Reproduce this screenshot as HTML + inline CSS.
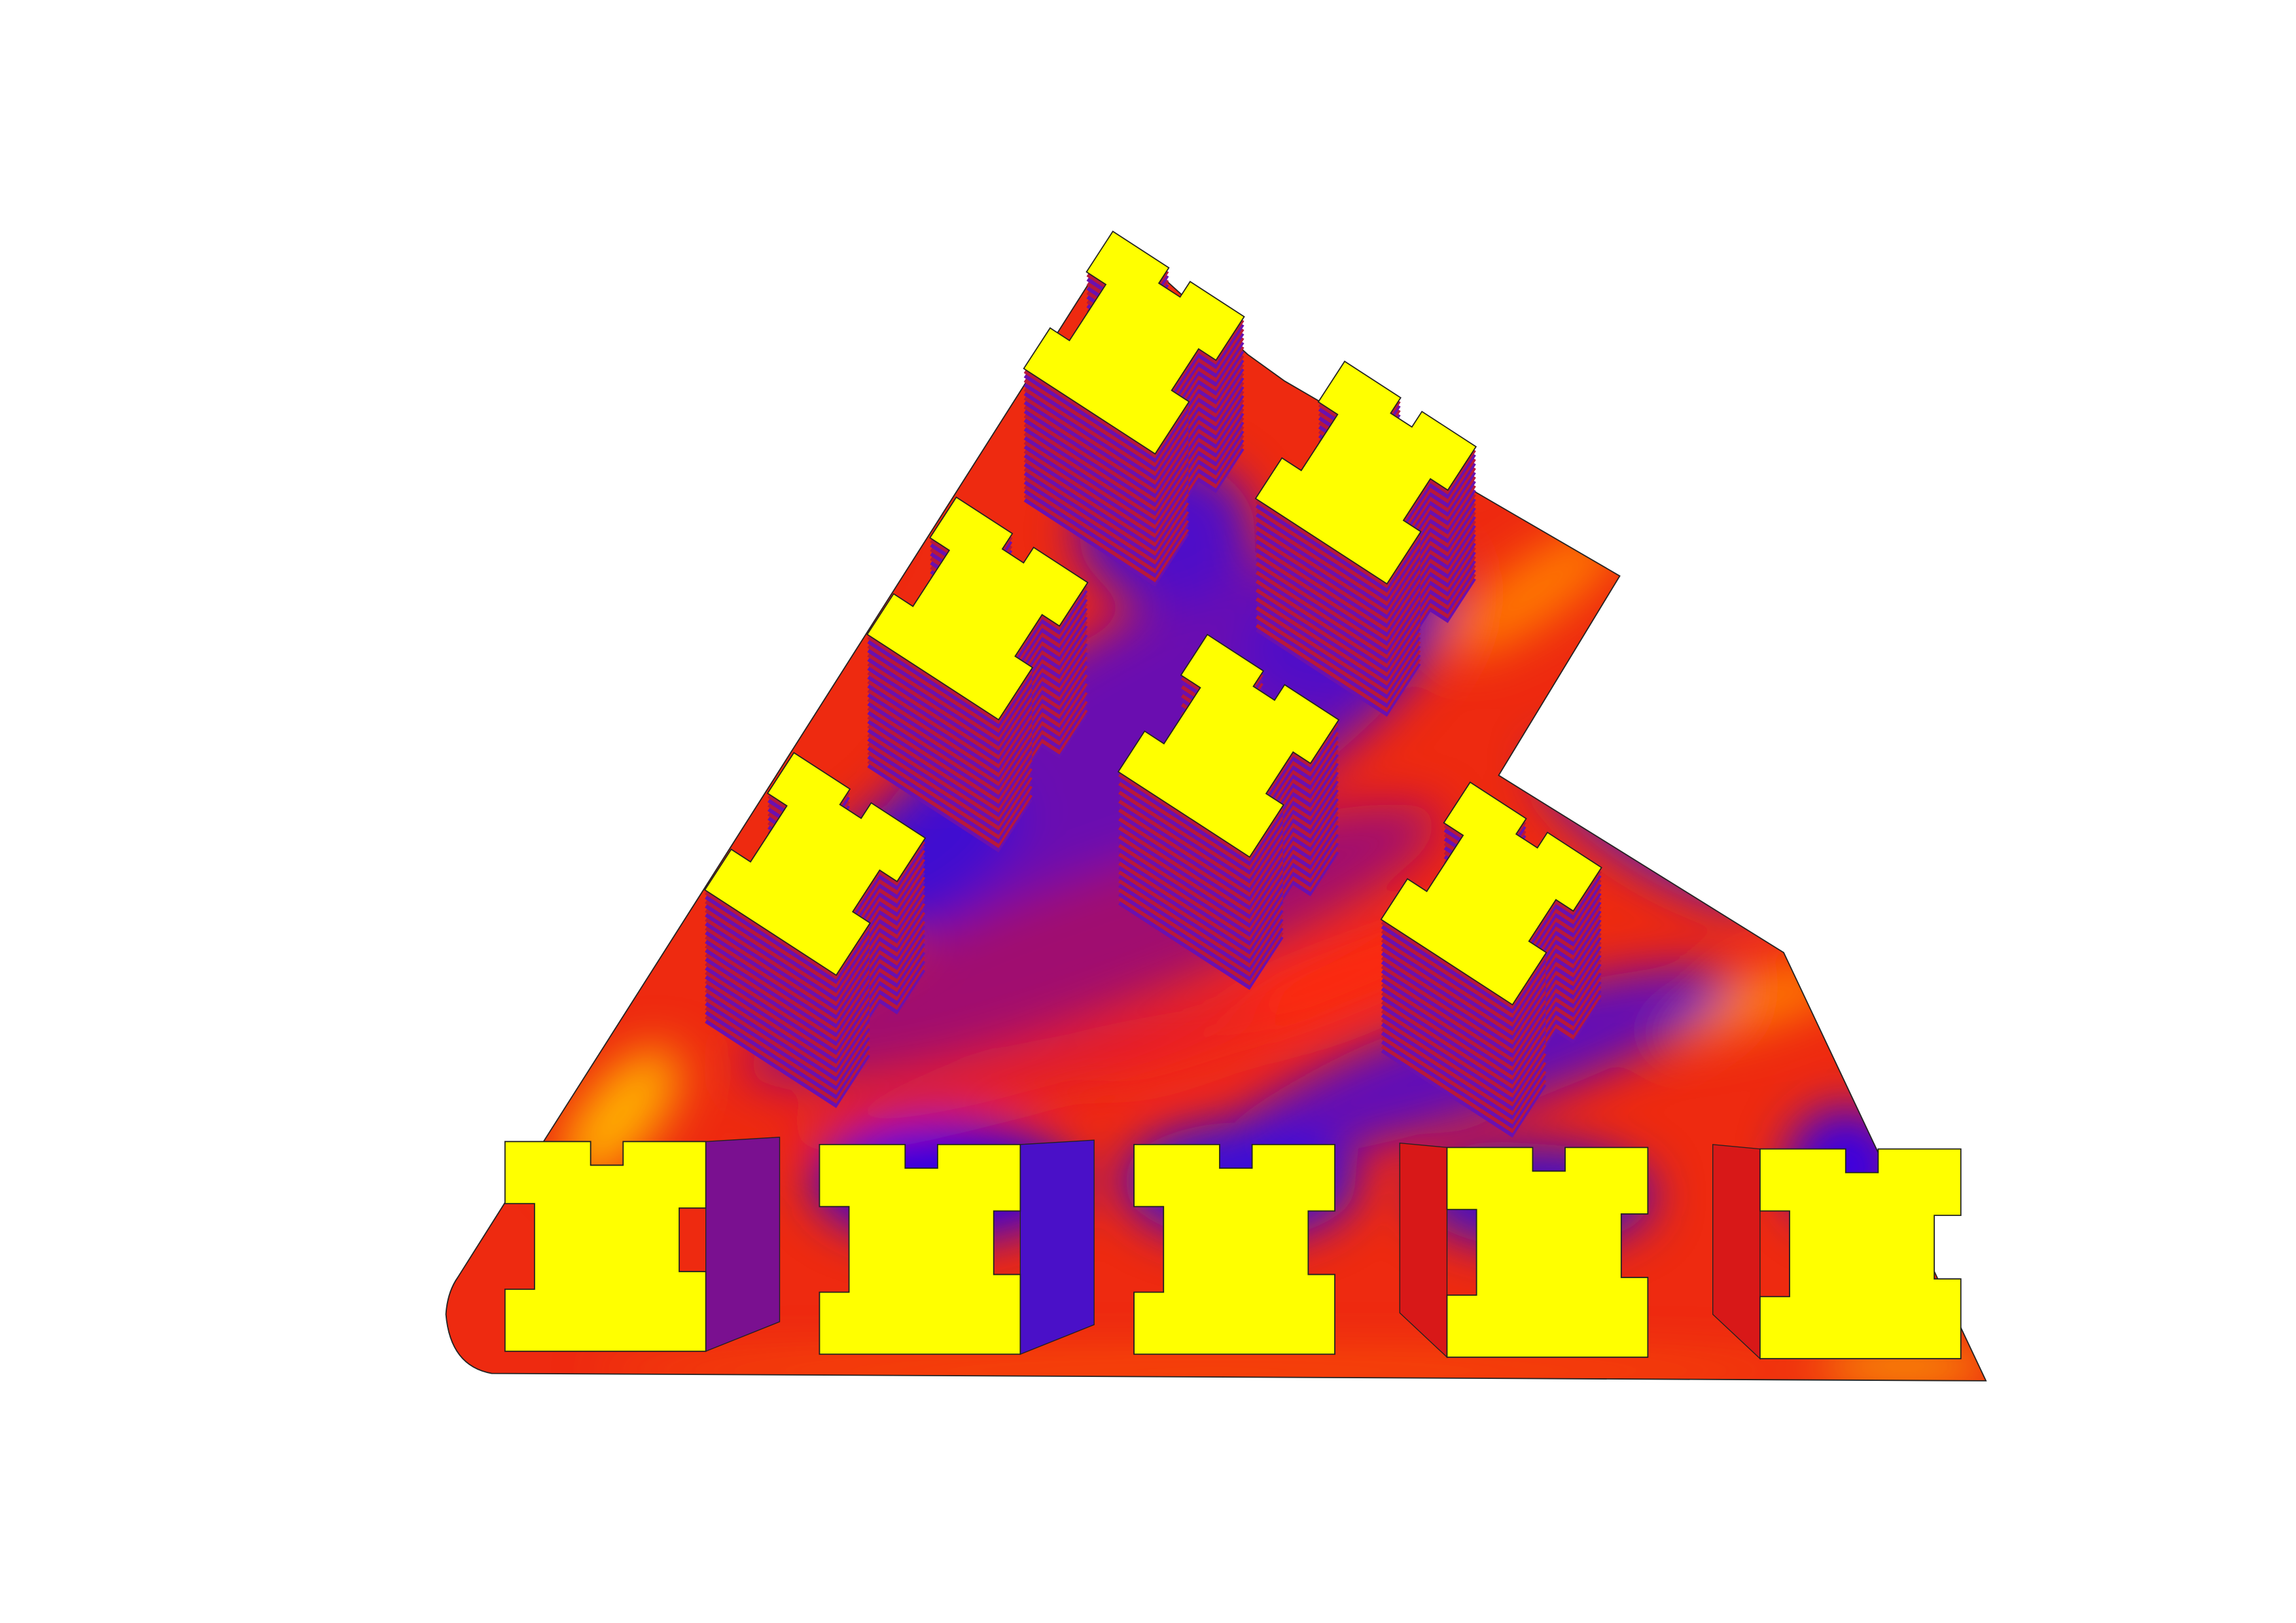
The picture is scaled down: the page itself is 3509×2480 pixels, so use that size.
<!DOCTYPE html>
<html><head><meta charset="utf-8"><style>
html,body{margin:0;padding:0;background:#fff;}
svg{display:block;}
</style></head><body>
<svg id="scene" width="3509" height="2480" viewBox="0 0 1555 1099" xmlns="http://www.w3.org/2000/svg">
<defs>
<clipPath id="site"><path d="M370,770 L745,180 L760,163 L845,240 L870,258 L1097,390 L1015,525 L1208,645 L1345,935 L333,930 Q305,925 302,890 Q303,875 310,865 Z"/></clipPath>
<filter id="blur" x="-20%" y="-20%" width="140%" height="140%"><feGaussianBlur stdDeviation="16"/></filter>
</defs>
<rect width="1555" height="1099" fill="#fff"/>
<g clip-path="url(#site)">
<rect x="290" y="150" width="1080" height="800" fill="#ee2a10"/>
<g filter="url(#blur)">
<ellipse cx="420" cy="755" rx="55" ry="25" fill="#ffb000" transform="rotate(-50 420 755)"/>
<ellipse cx="1040" cy="400" rx="70" ry="22" fill="#ff7a00" transform="rotate(-35 1040 400)"/>
<ellipse cx="1180" cy="680" rx="80" ry="18" fill="#ff8000" transform="rotate(-15 1180 680)"/>
<ellipse cx="1290" cy="925" rx="60" ry="10" fill="#ffcc00"/>
<ellipse cx="820" cy="928" rx="420" ry="8" fill="#ff6000"/>
<ellipse cx="780" cy="500" rx="230" ry="80" fill="#6a10b0" transform="rotate(-30 780 500)"/>
<ellipse cx="790" cy="360" rx="60" ry="50" fill="#5010c8"/>
<ellipse cx="900" cy="440" rx="60" ry="40" fill="#5010c8"/>
<ellipse cx="740" cy="640" rx="250" ry="45" fill="#a01070" transform="rotate(-20 740 640)"/>
<ellipse cx="620" cy="580" rx="80" ry="40" fill="#4010d0" transform="rotate(-30 620 580)"/>
<ellipse cx="1000" cy="720" rx="180" ry="35" fill="#6010b8" transform="rotate(-18 1000 720)"/>
<ellipse cx="1120" cy="560" rx="90" ry="28" fill="#5a20c0" transform="rotate(32 1120 560)"/>
<ellipse cx="640" cy="800" rx="90" ry="40" fill="#3000e0"/>
<ellipse cx="840" cy="800" rx="80" ry="40" fill="#3a08d8"/>
<ellipse cx="1040" cy="810" rx="80" ry="35" fill="#4010c8"/>
<ellipse cx="1250" cy="790" rx="40" ry="40" fill="#3a00e0"/>
<ellipse cx="900" cy="665" rx="170" ry="16" fill="#ff2a10" transform="rotate(-22 900 665)"/>
<ellipse cx="700" cy="725" rx="170" ry="14" fill="#e01a30" transform="rotate(-15 700 725)"/>
<ellipse cx="560" cy="360" rx="50" ry="25" fill="#ff4a10" transform="rotate(-57 560 360)"/>
</g>
</g>
<path d="M370,770 L745,180 L760,163 L845,240 L870,258 L1097,390 L1015,525 L1208,645 L1345,935 L333,930 Q305,925 302,890 Q303,875 310,865 Z" fill="none" stroke="#222" stroke-width="0.8"/>
<g id="upper"></g>
<g id="lower"></g>
</svg>
<script>
const H = "M0,0 L58,0 L58,16 L80,16 L80,0 L136,0 L136,45 L118,45 L118,88 L136,88 L136,142 L0,142 L0,100 L20,100 L20,42 L0,42 Z";
const upperX = [768, 925, 662, 832, 552, 1010];
const upperY = [232, 320, 412, 505, 585, 605];
const upperAngle = [33, 33, 33, 33, 33, 33];
const lowerX = [342, 555, 768, 980, 1192];
const lowerY = [773, 775, 775, 777, 778];
const NS = "http://www.w3.org/2000/svg";
const up = document.getElementById('upper');
for (let i = 0; i < upperX.length; i++) {
  const g = document.createElementNS(NS, 'g');
  
  
  for (let d = 90; d > 0; d -= 3) {
    const s = document.createElementNS(NS, 'path');
    s.setAttribute('d', H);
    s.setAttribute('transform', `translate(${upperX[i]},${upperY[i] + d}) rotate(${upperAngle[i]}) scale(0.78) translate(-68,-71)`);
    s.setAttribute('fill', d % 6 === 0 ? '#6a10b0' : '#b8183a');
    g.appendChild(s);
  }
  const t = document.createElementNS(NS, 'path');
  
  
  t.setAttribute('d', H);
  t.setAttribute('transform', `translate(${upperX[i]},${upperY[i]}) rotate(${upperAngle[i]}) scale(0.78) translate(-68,-71)`);
  t.setAttribute('fill', '#ffff00');
  t.setAttribute('stroke', '#222');
  t.setAttribute('stroke-width', '1');
  g.appendChild(t);
  up.appendChild(g);
}
const lo = document.getElementById('lower');
for (let i = 0; i < lowerX.length; i++) {
  const g = document.createElementNS(NS, 'g');
  
  
  const x = lowerX[i], y = lowerY[i];
  if (i !== 2) {
    const side = document.createElementNS(NS, 'polygon');
    
    
    if (i < 2) {
      side.setAttribute('points', `${x+136},${y} ${x+186},${y-3} ${x+186},${y+122} ${x+136},${y+142}`);
      side.setAttribute('fill', i === 0 ? '#7a1090' : '#4a10c8');
    } else {
      side.setAttribute('points', `${x},${y} ${x-32},${y-3} ${x-32},${y+112} ${x},${y+142}`);
      side.setAttribute('fill', '#d81818');
    }
    side.setAttribute('stroke', '#222');
    side.setAttribute('stroke-width', '0.6');
    g.appendChild(side);
  }
  const t = document.createElementNS(NS, 'path');
  
  
  t.setAttribute('d', H);
  t.setAttribute('transform', `translate(${x},${y})`);
  t.setAttribute('fill', '#ffff00');
  t.setAttribute('stroke', '#222');
  t.setAttribute('stroke-width', '0.8');
  g.appendChild(t);
  lo.appendChild(g);
}
</script>
</body></html>
